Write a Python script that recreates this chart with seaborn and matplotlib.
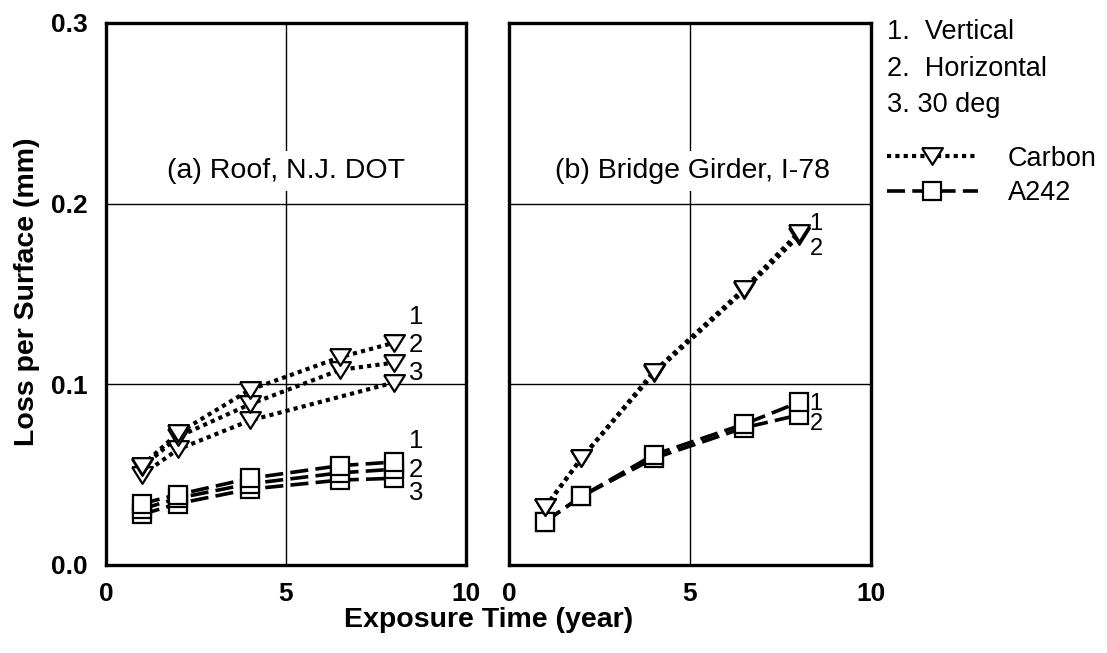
import matplotlib
matplotlib.use("Agg")
import matplotlib.pyplot as plt
from matplotlib.lines import Line2D
import seaborn as sns

# ---- data ----
x_full = [1, 2, 4, 6.5, 8]
x_s3 = [1, 2, 4, 8]

roof_carbon_1 = [0.055, 0.073, 0.097, 0.115, 0.123]
roof_carbon_2 = [0.054, 0.071, 0.089, 0.108, 0.112]
roof_carbon_3 = [0.050, 0.064, 0.080, 0.101]
roof_a242_1 = [0.034, 0.039, 0.048, 0.055, 0.057]
roof_a242_2 = [0.031, 0.037, 0.045, 0.051, 0.053]
roof_a242_3 = [0.028, 0.034, 0.042, 0.047, 0.048]

bridge_carbon_1 = [0.032, 0.059, 0.107, 0.153, 0.184]
bridge_carbon_2 = [0.032, 0.059, 0.106, 0.152, 0.182]
bridge_a242_1 = [0.024, 0.038, 0.061, 0.078, 0.090]
bridge_a242_2 = [0.024, 0.038, 0.059, 0.076, 0.083]

panel_titles = ["(a) Roof, N.J. DOT", "(b) Bridge Girder, I-78"]
legend_numbers = ["1.  Vertical", "2.  Horizontal", "3. 30 deg"]
x_ticks = [0, 5, 10]
y_ticks = [0.0, 0.1, 0.2, 0.3]
y_ticklabels = ["0.0", "0.1", "0.2", "0.3"]

# ---- style ----
sns.set_style("white")
plt.rcParams["font.family"] = ["Liberation Sans", "DejaVu Sans"]
plt.rcParams["text.color"] = "black"
plt.rcParams["axes.labelcolor"] = "black"
plt.rcParams["xtick.color"] = "black"
plt.rcParams["ytick.color"] = "black"

W, H = 1107, 653
fig = plt.figure(figsize=(W / 100, H / 100), dpi=100)
axL = fig.add_axes([106 / W, 1 - 565 / H, 360 / W, 542 / H])
axR = fig.add_axes([509 / W, 1 - 565 / H, 362 / W, 542 / H])

tri = [(-1.0, 0.8), (1.0, 0.8), (0.0, -0.8), (-1.0, 0.8)]

carbon_kw = dict(color="black", linewidth=3.0, linestyle=(0, (1.0, 1.0)),
                 marker=tri, markersize=15, markerfacecolor="white",
                 markeredgecolor="black", markeredgewidth=1.6)
a242_kw = dict(color="black", linewidth=2.6, linestyle=(0, (5.0, 2.0)),
               marker="s", markersize=12.5, markerfacecolor="white",
               markeredgecolor="black", markeredgewidth=1.6)

for xs, ys in [(x_full, roof_a242_3), (x_full, roof_a242_2), (x_full, roof_a242_1)]:
    sns.lineplot(x=xs, y=ys, ax=axL, sort=False, **a242_kw)
for xs, ys in [(x_s3, roof_carbon_3), (x_full, roof_carbon_2), (x_full, roof_carbon_1)]:
    sns.lineplot(x=xs, y=ys, ax=axL, sort=False, **carbon_kw)
for ys in [bridge_a242_2, bridge_a242_1]:
    sns.lineplot(x=x_full, y=ys, ax=axR, sort=False, **a242_kw)
for ys in [bridge_carbon_2, bridge_carbon_1]:
    sns.lineplot(x=x_full, y=ys, ax=axR, sort=False, **carbon_kw)

for ax, title, tx in zip([axL, axR], panel_titles, [5.0, 5.08]):
    ax.set_xlim(0, 10)
    ax.set_ylim(0, 0.3)
    ax.set_xticks(x_ticks)
    ax.set_yticks(y_ticks)
    ax.grid(True, color="black", linewidth=1.0)
    ax.set_axisbelow(True)
    ax.tick_params(length=0, labelsize=19, colors="black")
    ax.tick_params(axis="x", pad=12)
    for s in ax.spines.values():
        s.set_visible(True)
        s.set_color("black")
        s.set_linewidth(2.4)
    for lab in ax.get_xticklabels() + ax.get_yticklabels():
        lab.set_fontweight("bold")
    ax.text(tx, 0.218, title, ha="center", va="center", fontsize=20.5,
            color="black",
            bbox=dict(facecolor="white", edgecolor="none", pad=5), zorder=1)
    ax.set_xlabel("")
    ax.set_ylabel("")

axL.set_yticklabels(y_ticklabels, fontweight="bold")
axL.tick_params(axis="y", pad=13)
axR.set_yticklabels([])

# endpoint labels
for lbl, yv in zip(["1", "2", "3"], [0.137, 0.122, 0.106]):
    axL.text(8.42, yv, lbl, ha="left", va="center", fontsize=18.5)
for lbl, yv in zip(["1", "2", "3"], [0.0686, 0.0526, 0.040]):
    axL.text(8.42, yv, lbl, ha="left", va="center", fontsize=18.5)
for lbl, yv in zip(["1", "2"], [0.189, 0.175]):
    axR.text(8.3, yv, lbl, ha="left", va="center", fontsize=17)
for lbl, yv in zip(["1", "2"], [0.089, 0.078]):
    axR.text(8.3, yv, lbl, ha="left", va="center", fontsize=17)

fig.text(27 / W, 1 - 292 / H, "Loss per Surface (mm)", rotation=90,
         ha="center", va="center", fontsize=20.5, fontweight="bold")
fig.text(489 / W, 1 - 620 / H, "Exposure Time (year)",
         ha="center", va="center", fontsize=20.5, fontweight="bold")

for i, yc in enumerate([32, 69, 105]):
    fig.text(887 / W, 1 - yc / H, legend_numbers[i], ha="left", va="center",
             fontsize=19.5)

handles = [Line2D([], [], **carbon_kw), Line2D([], [], **a242_kw)]
leg = fig.legend(handles, ["Carbon", "A242"], loc="center left",
                 bbox_to_anchor=(887 / W, 1 - 176 / H), frameon=False,
                 fontsize=19.5, handlelength=3.35, handletextpad=1.1,
                 numpoints=1, labelspacing=0.33, borderaxespad=0,
                 borderpad=0)
for t in leg.get_texts():
    t.set_color("black")

fig.savefig("out.png", dpi=100)
